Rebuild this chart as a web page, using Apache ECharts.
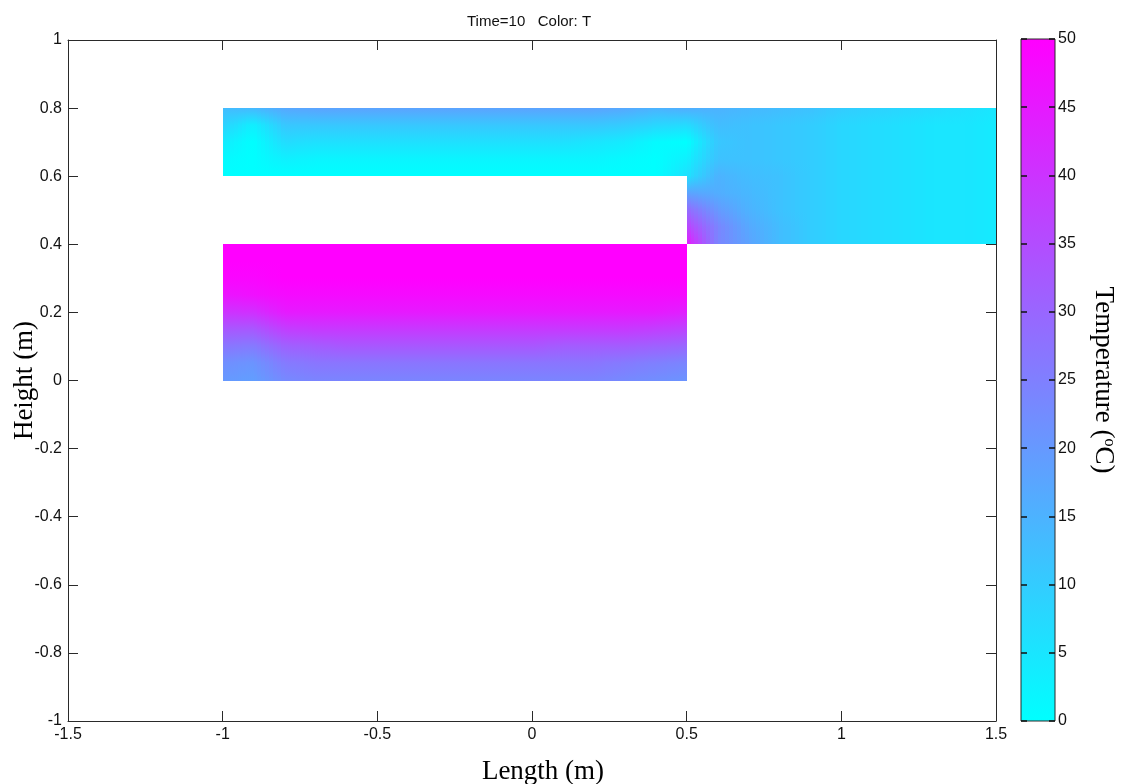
<!DOCTYPE html>
<html><head><meta charset="utf-8">
<script src="https://cdn.jsdelivr.net/npm/echarts@6/dist/echarts.min.js"></script>
<style>html,body{margin:0;padding:0;background:#fff}#c{width:1121px;height:784px}</style>
</head><body><div id="c"></div>
<script>
// ---- tick labels / ranges ----
const xRange = [-1.5, 1.5];
const yRange = [-1, 1];
const tRange = [0, 50];
const titleText = 'Time=10   Color: T';

// ---- upper band: x from -1 to 1.5, y from 0.8 down to 0.6 ----
const upperX = [-1.0,-0.9,-0.8,-0.7,-0.6,-0.5,-0.4,-0.3,-0.2,-0.1,0.0,0.1,0.2,0.3,0.4,0.5,0.6,0.7,0.8,0.9,1.0,1.1,1.2,1.3,1.4,1.5];
const upperY = [0.8, 0.75, 0.7, 0.65, 0.6];
const upperT_080 = [13,14,17,18,18,18,18,18,18,18,18,18,18,17,15,16,15,14,13,12,10,9,8,7,6,5];
const upperT_075 = [9,3,11,11,11,11,11,11,11,11,11,11,11,10,8,7,13,12,11,10,8,7,6,5,5,4];
const upperT_070 = [4,0,7,6,6,6,6,6,6,6,6,6,5,4,1,0,11,12,11,10,8,7,6,5,5,4];
const upperT_065 = [1,0,3,2,2,2,2,2,2,2,2,2,2,1,0,3,12,12,11,10,8,7,6,5,5,4];
const upperT_060 = [0,0,0,0,0,0,0,0,0,0,0,0,0,0,0,6,15,13,12,10,8,7,6,5,5,4];

// ---- right block: x from 0.5 to 1.5, y from 0.6 down to 0.4 ----
const rightX = [0.5,0.6,0.7,0.8,0.9,1.0,1.1,1.2,1.3,1.4,1.5];
const rightY = [0.6, 0.55, 0.5, 0.45, 0.4];
const rightT_060 = [6,15,13,12,10,8,7,6,5,5,4];
const rightT_055 = [18,16,14,12,10,8,7,6,5,5,4];
const rightT_050 = [29,20,15,12,10,8,7,6,5,5,4];
const rightT_045 = [37,24,17,13,10,8,7,6,5,5,4];
const rightT_040 = [45,24,18,13,10,8,7,6,5,5,4];

// ---- lower block: x from -1 to 0.5, y from 0.4 down to 0 ----
const lowerX = [-1.0,-0.9,-0.8,-0.7,-0.6,-0.5,-0.4,-0.3,-0.2,-0.1,0.0,0.1,0.2,0.3,0.4,0.5];
const lowerY = [0.4, 0.35, 0.3, 0.25, 0.2, 0.15, 0.1, 0.05, 0.0];
const lowerT_040 = [50,50,50,50,50,50,50,50,50,50,50,50,50,50,50,50];
const lowerT_035 = [50,50,50,50,50,50,50,50,50,50,50,50,50,50,50,50];
const lowerT_030 = [49,49,50,50,50,50,50,50,50,50,50,50,50,50,50,50];
const lowerT_025 = [46,47,48,48,48,48,48,48,48,48,48,48,48,48,48,48];
const lowerT_020 = [40,41,45,45,45,45,45,45,45,45,45,45,45,45,45,44];
const lowerT_015 = [33,33,38,39,39,39,39,39,39,39,39,39,39,39,38,37];
const lowerT_010 = [27,26,31,32,33,33,33,33,33,33,33,32,32,32,31,30];
const lowerT_005 = [22,21,26,27,27,27,27,27,27,27,27,27,27,26,25,24];
const lowerT_000 = [20,19,23,24,24,24,24,24,24,24,24,24,24,23,22,21];

const regions = [
  {xs: upperX, ys: upperY, rows: [upperT_080, upperT_075, upperT_070, upperT_065, upperT_060]},
  {xs: rightX, ys: rightY, rows: [rightT_060, rightT_055, rightT_050, rightT_045, rightT_040]},
  {xs: lowerX, ys: lowerY, rows: [lowerT_040, lowerT_035, lowerT_030, lowerT_025, lowerT_020, lowerT_015, lowerT_010, lowerT_005, lowerT_000]}
];

// cells: [x0, x1, yTop, yBottom, vTL, vTR, vBL, vBR]
const cells = [];
regions.forEach(r => {
  for (let j = 0; j < r.ys.length - 1; j++) {
    for (let i = 0; i < r.xs.length - 1; i++) {
      cells.push([r.xs[i], r.xs[i+1], r.ys[j], r.ys[j+1],
        r.rows[j][i], r.rows[j][i+1], r.rows[j+1][i], r.rows[j+1][i+1]]);
    }
  }
});

const cmap = ['#00ffff', '#ff00ff'];
function coolColor(v) {
  const t = Math.max(0, Math.min(1, (v - tRange[0]) / (tRange[1] - tRange[0])));
  return 'rgb(' + Math.round(255 * t) + ',' + Math.round(255 * (1 - t)) + ',255)';
}

const sans = '"Liberation Sans", Arial, sans-serif';
const serif = '"Liberation Serif", "Times New Roman", serif';
const lineCol = '#2a2a2a';
const labelStyle = {color: '#111', fontFamily: sans, fontSize: 16};

const chart = echarts.init(document.getElementById('c'), null, {renderer: 'canvas'});
chart.setOption({
  backgroundColor: '#fff',
  animation: false,
  title: {
    text: titleText, left: 462, top: 9,
    textStyle: {fontFamily: sans, fontSize: 15, fontWeight: 'normal', color: '#111'}
  },
  grid: [
    {left: 68, top: 40, width: 928, height: 681, outerBoundsMode: 'none', containLabel: false},
    {left: 1021, top: 39, width: 34, height: 682, outerBoundsMode: 'none', containLabel: false,
     show: true, borderColor: lineCol, borderWidth: 1, backgroundColor: 'transparent', z: 10}
  ],
  visualMap: {
    type: 'continuous', show: false, min: tRange[0], max: tRange[1], seriesIndex: 0, dimension: 4,
    inRange: {color: cmap}
  },
  xAxis: [
    {type: 'value', gridIndex: 0, min: xRange[0], max: xRange[1], interval: 0.5, position: 'bottom',
     name: 'Length (m)', nameLocation: 'middle', nameGap: 37, nameMoveOverlap: false,
     nameTextStyle: {fontFamily: serif, fontSize: 27, color: '#000', padding: [0, 0, 0, 22]},
     axisLine: {show: true, onZero: false, lineStyle: {color: lineCol, width: 1}},
     axisTick: {show: true, inside: true, length: 10, lineStyle: {color: lineCol}},
     axisLabel: Object.assign({margin: 6}, labelStyle), splitLine: {show: false}},
    {type: 'value', gridIndex: 0, min: xRange[0], max: xRange[1], interval: 0.5, position: 'top',
     axisLine: {show: true, onZero: false, lineStyle: {color: lineCol, width: 1}},
     axisTick: {show: true, inside: true, length: 10, lineStyle: {color: lineCol}},
     axisLabel: {show: false}, splitLine: {show: false}},
    {type: 'value', gridIndex: 1, min: 0, max: 1, show: false}
  ],
  yAxis: [
    {type: 'value', gridIndex: 0, min: yRange[0], max: yRange[1], interval: 0.2, position: 'left',
     name: 'Height (m)', nameLocation: 'middle', nameGap: 30, nameMoveOverlap: false,
     nameTextStyle: {fontFamily: serif, fontSize: 27, color: '#000'},
     axisLine: {show: true, onZero: false, lineStyle: {color: lineCol, width: 1}},
     axisTick: {show: true, inside: true, length: 10, lineStyle: {color: lineCol}},
     axisLabel: Object.assign({margin: 6}, labelStyle), splitLine: {show: false}},
    {type: 'value', gridIndex: 0, min: yRange[0], max: yRange[1], interval: 0.2, position: 'right',
     axisLine: {show: true, onZero: false, lineStyle: {color: lineCol, width: 1}},
     axisTick: {show: true, inside: true, length: 10, lineStyle: {color: lineCol}},
     axisLabel: {show: false}, splitLine: {show: false}},
    {type: 'value', gridIndex: 1, min: tRange[0], max: tRange[1], interval: 5, position: 'right', z: 10,
     name: '{a|Temperature (}{s|o}{a|C)}', nameLocation: 'middle', nameGap: 34, nameRotate: -90, nameMoveOverlap: false,
     nameTextStyle: {rich: {
       a: {fontFamily: serif, fontSize: 27, color: '#000'},
       s: {fontFamily: serif, fontSize: 16, color: '#000', padding: [0, 0, 12, 0]}
     }},
     axisLine: {show: false, onZero: false},
     axisTick: {show: true, inside: true, length: 6, lineStyle: {color: '#111', width: 1.5}},
     axisLabel: Object.assign({margin: 3}, labelStyle), splitLine: {show: false}},
    {type: 'value', gridIndex: 1, min: tRange[0], max: tRange[1], interval: 5, position: 'left', z: 10,
     axisLine: {show: false, onZero: false},
     axisTick: {show: true, inside: true, length: 6, lineStyle: {color: '#111', width: 1.5}},
     axisLabel: {show: false}, splitLine: {show: false}}
  ],
  series: [{
    type: 'custom', xAxisIndex: 0, yAxisIndex: 0, clip: true, silent: true,
    encode: {x: [0, 1], y: [2, 3]},
    data: cells,
    renderItem: function (params, api) {
      const x0 = api.value(0), x1 = api.value(1), yT = api.value(2), yB = api.value(3);
      const tl = api.value(4), tr = api.value(5), bl = api.value(6), br = api.value(7);
      const pTL = api.coord([x0, yT]), pBR = api.coord([x1, yB]);
      const N = 8, w = (pBR[0] - pTL[0]) / N;
      const yTop = Math.round(pTL[1]), yBot = Math.round(pBR[1]);
      const children = [];
      for (let k = 0; k < N; k++) {
        const f = (k + 0.5) / N;
        const vt = tl + (tr - tl) * f, vb = bl + (br - bl) * f;
        const xa = Math.round(pTL[0] + k * w), xb = Math.round(pTL[0] + (k + 1) * w);
        children.push({
          type: 'rect',
          shape: {x: xa, y: yTop, width: xb - xa, height: yBot - yTop},
          style: {fill: new echarts.graphic.LinearGradient(0, 0, 0, 1, [
            {offset: 0, color: coolColor(vt)}, {offset: 1, color: coolColor(vb)}]), stroke: null, lineWidth: 0}
        });
      }
      return {type: 'group', children: children};
    }
  }, {
    // colour bar
    type: 'custom', xAxisIndex: 2, yAxisIndex: 2, silent: true, z: 1,
    encode: {y: [0, 1]},
    data: [[tRange[0], tRange[1]]],
    renderItem: function (params, api) {
      const pTop = api.coord([0, api.value(1)]), pBot = api.coord([1, api.value(0)]);
      return {type: 'rect', shape: {x: pTop[0], y: pTop[1], width: pBot[0] - pTop[0], height: pBot[1] - pTop[1]},
        style: {fill: new echarts.graphic.LinearGradient(0, 0, 0, 1, [
          {offset: 0, color: coolColor(api.value(1))}, {offset: 1, color: coolColor(api.value(0))}])}};
    }
  }]
});
</script>
</body></html>
